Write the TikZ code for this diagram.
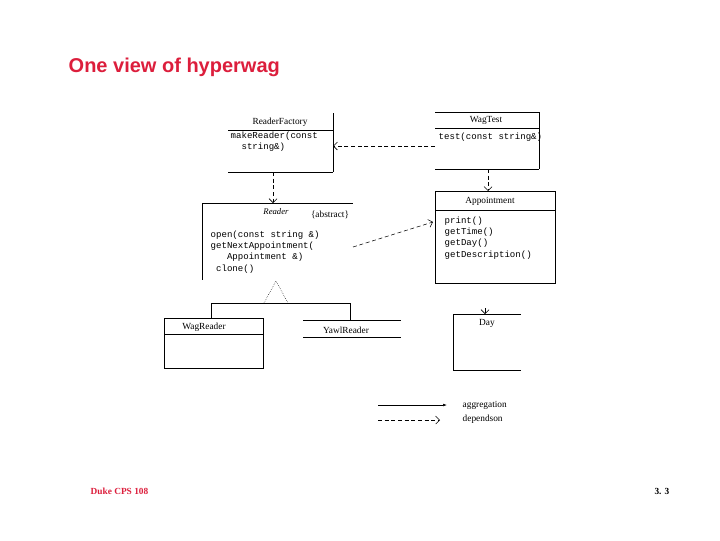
\documentclass[tikz,border=0pt]{standalone}
\usepackage{fontspec}
\setmainfont{Liberation Serif}
\setsansfont{Liberation Sans}
\setmonofont{Liberation Mono}
\usetikzlibrary{arrows.meta}
\definecolor{slidered}{RGB}{220,30,60}
\tikzset{
  dep/.style={densely dashed, -{Straight Barb[length=3pt]}},
  cls/.style={font=\fontsize{7}{8}\selectfont},
  meth/.style={font=\ttfamily\fontsize{6.8}{8.4}\selectfont, anchor=west, align=left},
}
\begin{document}
\begin{tikzpicture}[x=0.75pt,y=-0.75pt]
\useasboundingbox (0,0) rectangle (720,540);
% title and footer
\node[anchor=west, text=slidered, font=\sffamily\bfseries\fontsize{15}{18}\selectfont] (title) at (64,67) {One view of hyperwag};
\node[anchor=west, text=slidered, font=\bfseries\fontsize{7}{8}\selectfont] (foot) at (86,491) {Duke CPS 108};
\node[anchor=east, font=\bfseries\fontsize{7}{8}\selectfont] (page) at (674,491) {3. 3};
\begin{scope}[thin]
% ReaderFactory
\draw (228,130) -- (333,130) (333,113) -- (333,172) (228,172) -- (333,172);
\node[cls] (rf) at (280,122) {ReaderFactory};
\node[meth] (rfm) at (226,142) {makeReader(const\\\ \ string\&)};
% WagTest
\draw (435,112) -- (539,112) (435,128) -- (539,128) (539,112) -- (539,169) (435,169) -- (539,169);
\node[cls] (wt) at (486,120) {WagTest};
\node[meth] (wtm) at (434,137) {test(const string\&)};
% Reader
\draw (202,203) -- (353,203) (202,203) -- (202,280);
\node[cls, font=\itshape\fontsize{6.5}{8}\selectfont] (rd) at (276,212) {Reader};
\node[cls] (abs) at (330,215) {\{abstract\}};
\node[meth] (rdm) at (206,252) {open(const string \&)\\getNextAppointment(\\\ \ \ Appointment \&)\\\ clone()};
% Appointment
\draw (435,191) rectangle (555,283) (435,210) -- (555,210);
\node[cls] (ap) at (490,201) {Appointment};
\node[meth] (apm) at (440,238) {print()\\getTime()\\getDay()\\getDescription()};
% WagReader, YawlReader, Day
\draw (164,318) rectangle (263,368) (164,334) -- (263,334);
\node[cls] (wr) at (204,327) {WagReader};
\draw (303,320) -- (401,320) (303,337) -- (401,337);
\node[cls] (yr) at (346,330) {YawlReader};
\draw (453,314) -- (521,314) (453,314) -- (453,370) -- (521,370);
\node[cls] (dy) at (487,323) {Day};
% inheritance
\coordinate (tip) at (276,281);
\coordinate (tl) at (264,303);
\coordinate (tr) at (288,303);
\draw[densely dotted] (tl) -- (tip) -- (tr);
\draw (211,318) -- (211,303) -- (350,303) -- (350,320);
% dependencies
\draw[dep] (435,146) -- (333,146);
\draw[dep] (273,172) -- (273,203);
\draw[dep] (488,169) -- (488,191);
\draw[dep] (353,247) -- (433,222);
\draw[-{Straight Barb[length=3pt]}] (485,308) -- (485,314);
% legend
\draw[-{Latex[length=3pt,width=2pt]}] (378,405) -- (447,405);
\node[cls, anchor=west] (agg) at (458,405) {aggregation};
\draw[dep] (378,420) -- (440,420);
\node[cls, anchor=west] (dep) at (458,419) {dependson};
\end{scope}
\end{tikzpicture}
\end{document}
